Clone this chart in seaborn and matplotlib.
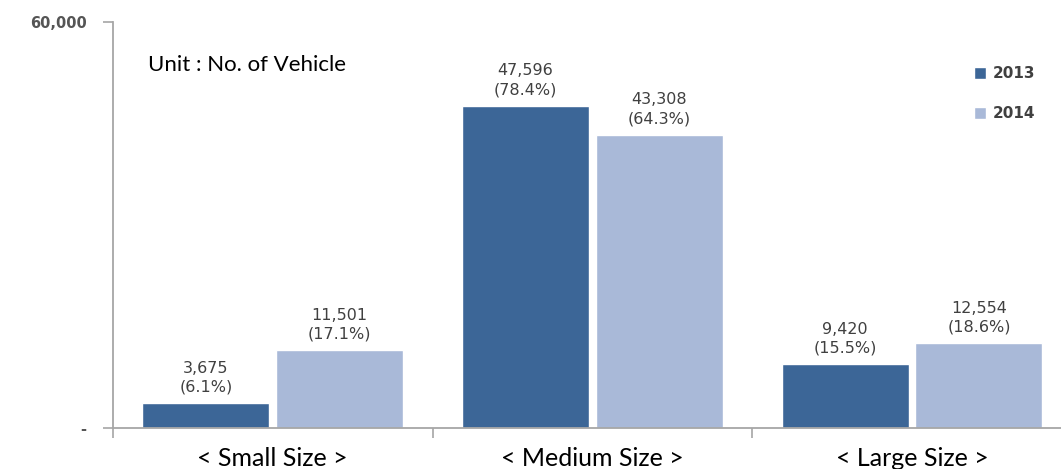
import pandas as pd
import numpy as np
import matplotlib.pyplot as plt
import seaborn as sns

# data
sizes = ["< Small Size >", "< Medium Size >", "< Large Size >"]
years = ["2013", "2014"]
vals_2013 = [3675, 47596, 9420]
vals_2014 = [11501, 43308, 12554]
pct_2013 = ["6.1%", "78.4%", "15.5%"]
pct_2014 = ["17.1%", "64.3%", "18.6%"]

df = pd.DataFrame({
    "Size": sizes * 2,
    "Year": [years[0]] * 3 + [years[1]] * 3,
    "Vehicles": vals_2013 + vals_2014,
    "Pct": pct_2013 + pct_2014,
})

sns.set_style("white")
plt.rcParams['font.family'] = ['DejaVu Sans']

fig = plt.figure(figsize=(10.61, 4.69), dpi=100)
ax = fig.add_axes([113/1061, 41/469, 1 - 113/1061, 406/469])

palette = {"2013": "#3C6697", "2014": "#A9B9D8"}
sns.barplot(data=df, x="Size", y="Vehicles", hue="Year", palette=palette,
            width=0.837, gap=0.05, saturation=1, ax=ax, legend=True)

ax.set_xlim(-0.5, 2.466)
ax.set_ylim(0, 60000)

# value labels
for cont, yr in zip(ax.containers, years):
    sub = df[df["Year"] == yr]
    for bar, v, p in zip(cont, sub["Vehicles"], sub["Pct"]):
        ax.annotate(f"{v:,}\n({p})", (bar.get_x() + bar.get_width() / 2, bar.get_height()),
                    xytext=(0, 6), textcoords="offset points", ha="center", va="bottom",
                    fontsize=11.5, color="#404040", linespacing=1.35)

# axes styling
for s in ["top", "right"]:
    ax.spines[s].set_visible(False)
for s in ["left", "bottom"]:
    ax.spines[s].set_color("#A6A6A6")
    ax.spines[s].set_linewidth(1.3)

ax.set_yticks([0, 60000])
ax.set_yticklabels(["-", "60,000"], fontsize=10.5, color="#555555", fontweight="bold")
ax.tick_params(axis="y", length=7, width=1.2, color="#A6A6A6", pad=12, left=True)

ax.set_xticks([0, 1, 2])
ax.set_xticklabels(sizes, fontsize=18, family="Lato", color="black")
ax.set_xticks([-0.5, 0.5, 1.5], minor=True)
ax.tick_params(axis="x", which="major", length=0, pad=14)
ax.tick_params(axis="x", which="minor", length=7, width=1.2, color="#A6A6A6", bottom=True)
ax.set_xlabel("")
ax.set_ylabel("")

fig.text(148/1061, 1 - 65/469, "Unit : No. of Vehicle", fontsize=16, family="Lato",
         va="center", ha="left", color="black")

leg = ax.legend(loc="upper left", bbox_to_anchor=(974/1061, 1 - 66/469),
                bbox_transform=fig.transFigure, frameon=False, handlelength=0.8,
                handleheight=0.8, handletextpad=0.4, labelspacing=1.65,
                borderpad=0, borderaxespad=0, prop={"size": 11, "weight": "bold"})
for t in leg.get_texts():
    t.set_color("#404040")

plt.savefig("out.png", dpi=100)
